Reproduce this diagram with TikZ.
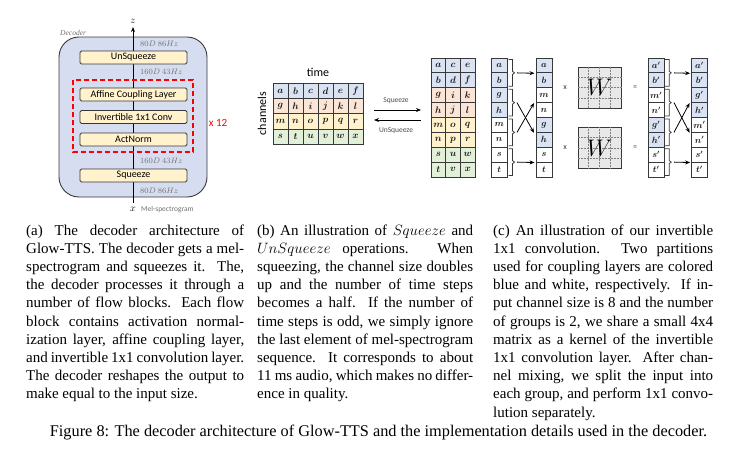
\RequirePackage{fix-cm}
\documentclass[tikz,border=0pt]{standalone}
\usepackage[no-math]{fontspec}
\setmainfont{Liberation Serif}
\newfontfamily\carl{Carlito}
\usetikzlibrary{arrows.meta,calc}
\definecolor{cblue}{HTML}{DAE3F3}
\definecolor{corange}{HTML}{FBE5D6}
\definecolor{cyellow}{HTML}{FFF2CC}
\definecolor{cgreen}{HTML}{E2F0D9}
\definecolor{decfill}{HTML}{D6DDF0}
\definecolor{edge}{HTML}{383838}
\definecolor{wfill}{HTML}{E8E8E8}
\definecolor{lab}{HTML}{707070}
\newcommand{\cv}[1]{{\boldmath$#1$}}
\newcommand{\cl}[1]{\hbox to \hsize{#1}}
% bracket: x, top, bottom, mid (numbers only)
\newcommand{\brc}[4]{\draw[brk] (#1,#2) -- ++(4,0) -- ++(0,{#4-#2-1.5}) -- ++(2,1.5) -- ++(-2,1.5) -- ++(0,{#3-#4-1.5}) -- ++(-4,0);}
\begin{document}
\begin{tikzpicture}[x=1pt,y=-1pt,
  layer/.style={draw=edge, line width=0.9pt, fill=cyellow, rounded corners=1.5pt, minimum width=107pt, minimum height=13pt, inner sep=0pt, font=\carl\fontsize{10}{12}\selectfont},
  dimlab/.style={anchor=west, inner sep=0pt, text=lab, font=\fontsize{8}{9}\selectfont},
  cell/.style={draw=edge, line width=0.8pt, inner sep=0pt, text=black!90},
  cellL/.style={cell, minimum width=15pt, minimum height=15.2pt, font=\fontsize{9.5}{11}\selectfont},
  cellS/.style={cell, minimum width=14.67pt, minimum height=14.875pt, font=\fontsize{9.5}{11}\selectfont},
  cellC/.style={cell, minimum width=16pt, minimum height=14.875pt, font=\fontsize{9}{11}\selectfont},
  arr/.style={-{Stealth[length=5pt,width=4pt]}, line width=0.8pt, draw=black},
  brk/.style={line width=0.8pt, draw=edge},
  smallop/.style={inner sep=0pt, text=edge, font=\carl\fontsize{8}{9}\selectfont},
  opl/.style={inner sep=0pt, text=black!70, font=\carl\fontsize{7.5}{9}\selectfont},
  wbox/.style={draw=edge, line width=0.9pt, fill=wfill, minimum width=43pt, minimum height=41pt, inner sep=0pt},
  capt/.style={anchor=base west, inner sep=0pt}]
\useasboundingbox (0,0) rectangle (734,453);

% ---------------- (a) decoder ----------------
\draw[draw=edge, line width=0.9pt, fill=decfill, rounded corners=20pt] (59,37) rectangle (207,197);
\node[anchor=west, inner sep=0pt, text=lab, font=\itshape\fontsize{7.5}{9}\selectfont] (declab) at (60,33) {Decoder};
\coordinate (xb) at (133,203);
\coordinate (zt) at (133,27);
\draw[arr] (xb) -- (zt);
\node[inner sep=0pt, font=\fontsize{10}{12}\selectfont] (zlab) at (133,21) {$z$};
\node[inner sep=0pt, font=\fontsize{10}{12}\selectfont] (xlab) at (133,209) {$x$};
\node[anchor=west, inner sep=0pt, text=lab, font=\carl\fontsize{7.5}{9}\selectfont] (mel) at (141,209.5) {Mel-spectrogram};
\draw[red, line width=1.6pt, dash pattern=on 5pt off 3pt] (73,80) rectangle (193,152);
\node[layer] (unsq) at (133.5,57.5) {UnSqueeze};
\node[layer] (aff) at (133.5,94.5) {Affine Coupling Layer};
\node[layer] (inv) at (133.5,117) {Invertible 1x1 Conv};
\node[layer] (act) at (133.5,139.5) {ActNorm};
\node[layer] (sq) at (133.5,175.5) {Squeeze};
\node[dimlab] (d1) at (140,44) {$80D\ 86Hz$};
\node[dimlab] (d2) at (140,72) {$160D\ 43Hz$};
\node[dimlab] (d3) at (140,161) {$160D\ 43Hz$};
\node[dimlab] (d4) at (140,191) {$80D\ 86Hz$};
\node[inner sep=0pt, text=red, font=\carl\fontsize{11}{13}\selectfont] (x12) at (218,123) {x 12};

% ---------------- (b) squeeze ----------------
\node[inner sep=0pt, font=\carl\fontsize{12}{14}\selectfont] (time) at (318,72) {time};
\node[inner sep=0pt, rotate=90, font=\carl\fontsize{12}{14}\selectfont] (chan) at (262,113.5) {channels};
\foreach \r/\col/\lst in {0/cblue/{a,b,c,d,e,f},1/corange/{g,h,i,j,k,l},2/cyellow/{m,n,o,p,q,r},3/cgreen/{s,t,u,v,w,x}}{
  \foreach \l [count=\c from 0] in \lst {
    \node[cellL, fill=\col] (L-\r-\c) at ({280.5+15*\c},{90.9+15.2*\r}) {\cv{\l}};
  }
}
\coordinate (sqa) at (374,110);
\coordinate (sqb) at (421,110);
\coordinate (usa) at (421,120);
\coordinate (usb) at (374,120);
\draw[arr] (sqa) -- (sqb);
\draw[arr] (usa) -- (usb);
\node[opl] (sqlab) at (396,101) {Squeeze};
\node[opl] (uslab) at (396,131) {UnSqueeze};
\foreach \r/\col/\a/\b/\c in {0/cblue/a/c/e,1/cblue/b/d/f,2/corange/g/i/k,3/corange/h/j/l,4/cyellow/m/o/q,5/cyellow/n/p/r,6/cgreen/s/u/w,7/cgreen/t/v/x}{
  \node[cellS, fill=\col] (S-\r-0) at ({438.33},{65.44+14.875*\r}) {\cv{\a}};
  \node[cellS, fill=\col] (S-\r-1) at ({453},{65.44+14.875*\r}) {\cv{\b}};
  \node[cellS, fill=\col] (S-\r-2) at ({467.67},{65.44+14.875*\r}) {\cv{\c}};
}

% ---------------- (c) invertible 1x1 conv ----------------
\foreach \r/\col/\l in {0/cblue/a,1/cblue/b,2/cblue/g,3/cblue/h,4/white/m,5/white/n,6/white/s,7/white/t}{
  \node[cellC, fill=\col] (P-\r) at (499.2,{65.44+14.875*\r}) {\cv{\l}};
}
\foreach \r/\col/\l in {0/cblue/a,1/cblue/b,2/white/m,3/white/n,4/cblue/g,5/cblue/h,6/white/s,7/white/t}{
  \node[cellC, fill=\col] (Q-\r) at (543.9,{65.44+14.875*\r}) {\cv{\l}};
}
\foreach \r/\col/\l in {0/cblue/a',1/cblue/b',2/white/m',3/white/n',4/cblue/g',5/cblue/h',6/white/s',7/white/t'}{
  \node[cellC, fill=\col] (R-\r) at (656.2,{65.44+14.875*\r}) {\cv{\l}};
}
\foreach \r/\col/\l in {0/cblue/a',1/cblue/b',2/cblue/g',3/cblue/h',4/white/m',5/white/n',6/white/s',7/white/t'}{
  \node[cellC, fill=\col] (T-\r) at (699.5,{65.44+14.875*\r}) {\cv{\l}};
}
% braces
\foreach \k in {0,1,2,3}{
  \pgfmathsetmacro{\yt}{58+29.75*\k+1.5}
  \pgfmathsetmacro{\yb}{58+29.75*(\k+1)-1.5}
  \pgfmathsetmacro{\ym}{72.875+29.75*\k}
  \brc{508.5}{\yt}{\yb}{\ym}
  \brc{665.2}{\yt}{\yb}{\ym}
  \coordinate (bp-\k) at (517,\ym);
  \coordinate (br-\k) at (674,\ym);
}
\draw[arr] (bp-0) -- ([xshift=-1pt]Q-0.south west);
\draw[arr] (bp-1) -- ([xshift=-1.5pt]Q-4.south west);
\draw[arr] (bp-2) -- ([xshift=-1.5pt]Q-2.south west);
\draw[arr] (bp-3) -- ([xshift=-1pt]Q-6.south west);
\draw[arr] (br-0) -- ([xshift=-1pt]T-0.south west);
\draw[arr] (br-1) -- ([xshift=-1.5pt]T-4.south west);
\draw[arr] (br-2) -- ([xshift=-1.5pt]T-2.south west);
\draw[arr] (br-3) -- ([xshift=-1pt]T-6.south west);
% W kernels
\foreach \i/\y in {1/87.5,2/148}{
  \node[wbox] (W\i) at (599.5,\y) {};
  \foreach \f in {0.25,0.5,0.75}{
    \draw[densely dotted, line width=0.5pt, gray] ($(W\i.north west)!\f!(W\i.north east)$) -- ($(W\i.south west)!\f!(W\i.south east)$);
    \draw[densely dotted, line width=0.5pt, gray] ($(W\i.north west)!\f!(W\i.south west)$) -- ($(W\i.north east)!\f!(W\i.south east)$);
  }
  \node[inner sep=0pt, font=\fontsize{24}{28}\selectfont] (Wl\i) at (W\i.center) {$W$};
  \node[smallop] (mul\i) at (565,\y) {x};
  \node[smallop] (eq\i) at (635,\y) {=};
}

% ---------------- captions ----------------
\node[capt] (capa) at (26,235) {\vtop{\hsize=218pt \fontsize{15}{18.2}\selectfont
\cl{(a) The decoder architecture of}
\cl{Glow-TTS. The decoder gets a mel-}
\cl{spectrogram and squeezes it. The,}
\cl{the decoder processes it through a}
\cl{number of flow blocks. Each flow}
\cl{block contains activation normal-}
\cl{ization layer, affine coupling layer,}
\cl{and invertible 1x1 convolution layer.}
\cl{The decoder reshapes the output to}
\hbox{make equal to the input size.}}};
\node[capt] (capb) at (257,235) {\vtop{\hsize=216pt \fontsize{15}{18.2}\selectfont
\cl{(b) An illustration of $Squeeze$ and}
\cl{$UnSqueeze$ operations. When}
\cl{squeezing, the channel size doubles}
\cl{up and the number of time steps}
\cl{becomes a half. If the number of}
\cl{time steps is odd, we simply ignore}
\cl{the last element of mel-spectrogram}
\cl{sequence. It corresponds to about}
\cl{11 ms audio, which makes no differ-}
\hbox{ence in quality.}}};
\node[capt] (capc) at (493,235) {\vtop{\hsize=220pt \fontsize{15}{18.2}\selectfont
\cl{(c) An illustration of our invertible}
\cl{1x1 convolution. Two partitions}
\cl{used for coupling layers are colored}
\cl{blue and white, respectively. If in-}
\cl{put channel size is 8 and the number}
\cl{of groups is 2, we share a small 4x4}
\cl{matrix as a kernel of the invertible}
\cl{1x1 convolution layer. After chan-}
\cl{nel mixing, we split the input into}
\cl{each group, and perform 1x1 convo-}
\hbox{lution separately.}}};
\node[anchor=base, inner sep=0pt, font=\fontsize{16.3}{18}\selectfont] (fig) at (378.5,436) {Figure 8: The decoder architecture of Glow-TTS and the implementation details used in the decoder.};
\end{tikzpicture}
\end{document}
